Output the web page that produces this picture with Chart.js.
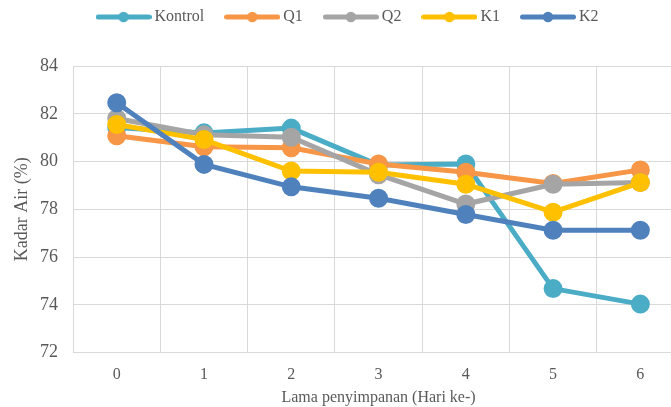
<!DOCTYPE html>
<html>
<head>
<meta charset="utf-8">
<script src="https://cdn.jsdelivr.net/npm/chart.js@4/dist/chart.umd.min.js"></script>
<style>
  html, body { margin: 0; padding: 0; background: #fff; overflow: hidden; }
  #wrap { width: 671px; height: 407px; overflow: hidden; position: relative; }
  #box { width: 696px; height: 407px; position: absolute; left: 0; top: 0; }
</style>
</head>
<body>
<div id="wrap"><div id="box"><canvas id="c"></canvas></div></div>
<script>
// Storage day (Hari ke-)
const days = ['0', '1', '2', '3', '4', '5', '6'];

// Moisture content (%) per treatment
const kontrol = [81.42, 81.20, 81.40, 79.85, 79.90, 74.68, 74.03];
const q1      = [81.08, 80.62, 80.58, 79.90, 79.55, 79.08, 79.65];
const q2      = [81.80, 81.12, 81.02, 79.45, 78.22, 79.05, 79.12];
const k1      = [81.55, 80.92, 79.60, 79.55, 79.05, 77.88, 79.12];
const k2      = [82.46, 79.88, 78.94, 78.46, 77.78, 77.12, 77.12];

const seriesNames  = ['Kontrol', 'Q1', 'Q2', 'K1', 'K2'];
const seriesValues = [kontrol, q1, q2, k1, k2];
const seriesColors = ['#4BACC6', '#F79646', '#A5A5A5', '#FFC000', '#4F81BD'];

const yTicks = [72, 74, 76, 78, 80, 82, 84];

const FONT = '"Liberation Serif", "Times New Roman", serif';
const TEXT = '#595959';

// Legend marker: short line with a dot in the middle
function legendMarker(color) {
  const w = 56, h = 12;
  const cv = document.createElement('canvas');
  cv.width = w; cv.height = h;
  const g = cv.getContext('2d');
  g.strokeStyle = color; g.lineWidth = 5; g.lineCap = 'round';
  g.beginPath(); g.moveTo(2.5, h / 2); g.lineTo(w - 2.5, h / 2); g.stroke();
  g.fillStyle = color;
  g.beginPath(); g.arc(w / 2, h / 2, 5.2, 0, Math.PI * 2); g.fill();
  return cv;
}
const markers = seriesColors.map(legendMarker);

// Later series are painted over earlier ones
const datasets = seriesNames.map((name, i) => ({
  label: name,
  data: seriesValues[i],
  borderColor: seriesColors[i],
  backgroundColor: seriesColors[i],
  pointBackgroundColor: seriesColors[i],
  pointBorderColor: seriesColors[i],
  borderWidth: 5,
  pointRadius: 7,
  pointHoverRadius: 7,
  tension: 0,
  order: seriesNames.length - i
}));

// Extra space under the legend, and a small nudge of the legend row
const legendTweak = {
  id: 'legendTweak',
  beforeInit(chart) {
    const origFit = chart.legend.fit;
    chart.legend.fit = function () {
      origFit.bind(chart.legend)();
      this.height += 31;
    };
  },
  afterLayout(chart) {
    chart.legend.left -= 4;
    chart.legend.right -= 4;
  }
};

new Chart(document.getElementById('c'), {
  type: 'line',
  data: { labels: days, datasets },
  plugins: [legendTweak],
  options: {
    responsive: true,
    maintainAspectRatio: false,
    animation: false,
    layout: { padding: { left: 11, right: 0, top: -16, bottom: 0 } },
    plugins: {
      tooltip: { enabled: false },
      legend: {
        position: 'top',
        align: 'center',
        labels: {
          color: TEXT,
          font: { family: FONT, size: 16 },
          usePointStyle: true,
          pointStyleWidth: 46,
          padding: 25,
          generateLabels(chart) {
            return chart.data.datasets.map((ds, i) => ({
              text: ds.label,
              fillStyle: ds.borderColor,
              strokeStyle: ds.borderColor,
              fontColor: TEXT,
              lineWidth: 0,
              pointStyle: markers[i],
              hidden: false,
              datasetIndex: i
            }));
          }
        }
      }
    },
    scales: {
      x: {
        offset: true,
        grid: { offset: true, color: '#D9D9D9', lineWidth: 1, drawTicks: false },
        border: { color: '#D9D9D9' },
        ticks: { color: TEXT, font: { family: FONT, size: 16 }, padding: 13 },
        title: {
          display: true,
          text: 'Lama penyimpanan (Hari ke-)',
          color: TEXT,
          font: { family: FONT, size: 16 },
          padding: { top: -10, bottom: 0 }
        }
      },
      y: {
        min: 72,
        max: 84,
        afterBuildTicks(scale) { scale.ticks = yTicks.map(v => ({ value: v })); },
        grid: { color: '#D9D9D9', lineWidth: 1, drawTicks: false },
        border: { color: '#D9D9D9' },
        ticks: { color: TEXT, font: { family: FONT, size: 18 }, padding: 15 },
        title: {
          display: true,
          text: 'Kadar Air (%)',
          color: TEXT,
          font: { family: FONT, size: 18 },
          padding: { top: 0, bottom: -7.5 }
        }
      }
    }
  }
});
</script>
</body>
</html>
